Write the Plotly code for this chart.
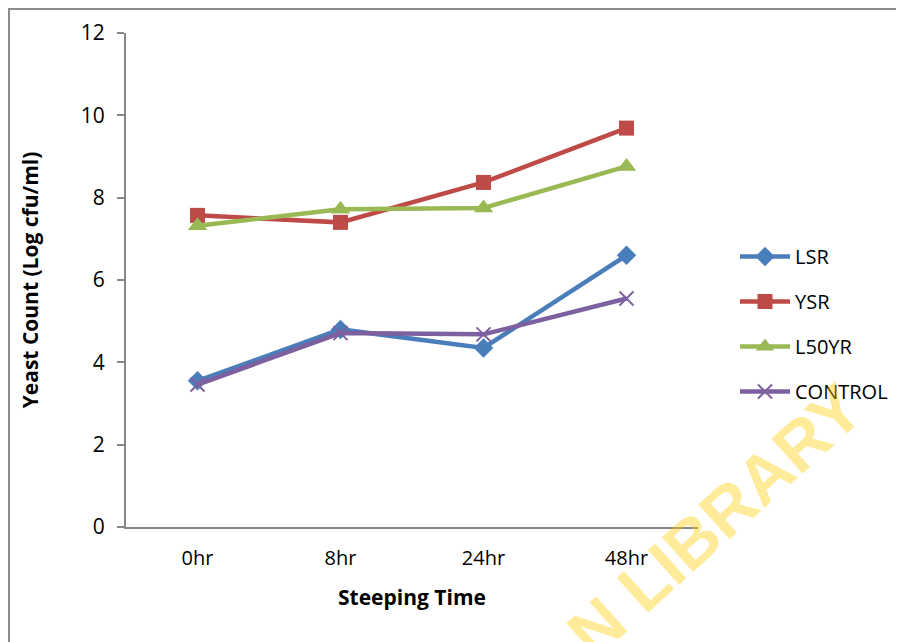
import plotly.graph_objects as go

categories = ["0hr", "8hr", "24hr", "48hr"]
lsr = [3.55, 4.8, 4.35, 6.6]
ysr = [7.57, 7.4, 8.37, 9.69]
l50yr = [7.32, 7.72, 7.75, 8.76]
control = [3.46, 4.71, 4.68, 5.55]
y_ticks = [0, 2, 4, 6, 8, 10, 12]

FONT = "Open Sans"
# figure is rendered with an 8px page offset; layout numbers below are in figure px
L, T, W, H = 118, 25, 572, 494

series = [
    ("LSR", lsr, "#4A7EBB", dict(symbol="diamond", size=15)),
    ("YSR", ysr, "#BE4B48", dict(symbol="square", size=15)),
    ("L50YR", l50yr, "#98B954", dict(symbol="triangle-up", size=17)),
    ("CONTROL", control, "#7D60A0", dict(symbol="x-thin-open", size=14, line=dict(width=2, color="#7D60A0"))),
]

fig = go.Figure()
for i, (name, vals, col, mk) in enumerate(series):
    m = dict(color=col, **mk)
    fig.add_trace(go.Scatter(
        x=categories, y=vals, name=name, mode="lines+markers",
        line=dict(color=col, width=4.5), marker=m, legendgroup=str(i),
    ))

fig.update_layout(
    width=904, height=642,
    margin=dict(l=L, r=904 - L - W, t=T, b=642 - T - H, autoexpand=False),
    paper_bgcolor="white", plot_bgcolor="white",
    font=dict(family=FONT, size=20, color="black"),
    showlegend=True,
    legend=dict(x=(727 - L) / W, y=(T + H - 229) / H, xanchor="left", yanchor="top",
                font=dict(size=20, family=FONT), tracegroupgap=16,
                itemwidth=50, bgcolor="rgba(0,0,0,0)"),
    xaxis=dict(
        type="category", range=[-0.5, 3.5], showline=True, linecolor="#868686",
        linewidth=2, ticks="", showgrid=False, zeroline=False,
        tickfont=dict(size=20, family=FONT), ticklabelstandoff=12,
        title=dict(text="<b>Steeping Time</b>", font=dict(size=21, family=FONT), standoff=20),
        automargin=False,
    ),
    yaxis=dict(
        range=[0, 12], tickvals=y_ticks, showline=True, linecolor="#868686",
        linewidth=2, ticks="outside", ticklen=7, tickcolor="#868686", tickwidth=2,
        showgrid=False, zeroline=False, tickfont=dict(size=21, family=FONT),
        ticklabelstandoff=8,
        title=dict(text="<b>Yeast Count (Log cfu/ml)</b>", font=dict(size=21, family=FONT), standoff=36),
        automargin=False,
    ),
)

# outer chart border
fig.add_shape(type="rect", xref="paper", yref="paper",
              x0=(1 - L) / W, x1=1.5, y0=-0.5, y1=(T + H - 1) / H,
              line=dict(color="#8C8C8C", width=2), fillcolor="rgba(0,0,0,0)", layer="below")

# watermark
fig.add_annotation(text="<b>N LIBRARY</b>", xref="paper", yref="paper",
                   x=(707 - L) / W, y=(T + H - 512) / H, xanchor="center", yanchor="middle",
                   showarrow=False, textangle=-42,
                   font=dict(size=68, color="rgba(255,204,0,0.4)", family="Liberation Sans"))

fig.write_html("out.html")
